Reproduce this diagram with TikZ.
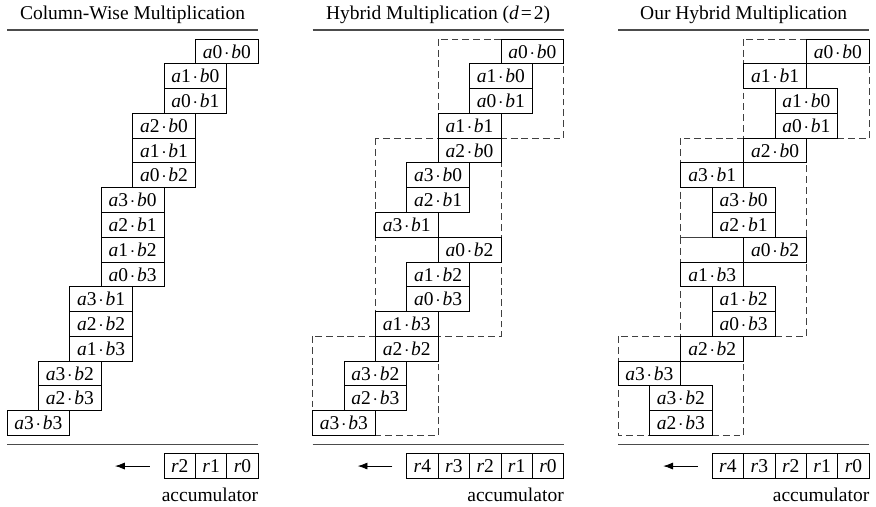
\documentclass[tikz,border=0pt]{standalone}
\usepackage{fontspec}
\setmainfont{Liberation Serif}
\usetikzlibrary{arrows.meta}

\newcommand{\pp}[2]{\textit{a}#1\kern0.9pt$\cdot$\kern0.9pt\textit{b}#2}

\begin{document}
\begin{tikzpicture}[x=16.1pt, y=-12.7pt,
    prodbox/.style = {draw, minimum width=32.2pt, minimum height=12.7pt, inner sep=0pt},
    regbox/.style = {draw, minimum width=16.1pt, minimum height=12.7pt, inner sep=0pt},
    dashgroup/.style = {draw=black!75, dash pattern=on 3.5pt off 2pt},
    panelrule/.style = {draw=black!70, line width=0.7pt},
    carry/.style = {-{Latex[length=5pt,width=3.6pt]}}]

    \useasboundingbox (-0.223,-1.576) rectangle (27.675,18.87);

    % column-wise
    \node[anchor=base] (cwtitle) at (4,-0.77) {Column-Wise Multiplication};
    \draw[panelrule] (0,-0.364) -- (8,-0.364);
    \draw[panelrule] (0,16.36) -- (8,16.36);
    \foreach \a/\b/\c [count=\r from 0] in {0/0/0, 1/0/1, 0/1/1, 2/0/2, 1/1/2, 0/2/2, 3/0/3, 2/1/3, 1/2/3, 0/3/3, 3/1/4, 2/2/4, 1/3/4, 3/2/5, 2/3/5, 3/3/6}
        \node[prodbox] (cw\a\b) at (7-\c,\r+0.5) {\pp{\a}{\b}};
    \foreach \i in {0,1,2} \node[regbox] (cwr\i) at (7.5-\i,17.24) {\textit{r}\i};
    \coordinate (cwtip) at (3.44,17.24);
    \draw[carry] ([xshift=-7.2pt]cwr2.west) -- (cwtip);
    \node[anchor=north east, inner xsep=0pt, inner ysep=4.5pt] (cwacc) at (cwr0.south east) {accumulator};

    % hybrid, d = 2
    \begin{scope}[xshift=156.65pt]
    \node[anchor=base] (hytitle) at (4,-0.77) {Hybrid Multiplication (\textit{d}\kern1pt=\kern1pt2)};
    \draw[panelrule] (0,-0.364) -- (8,-0.364);
    \draw[panelrule] (0,16.36) -- (8,16.36);
    \draw[dashgroup] (4,0) rectangle (8,4);
    \draw[dashgroup] (2,4) rectangle (6,12);
    \draw[dashgroup] (0,12) rectangle (4,16);
    \foreach \a/\b/\c [count=\r from 0] in {0/0/0, 1/0/1, 0/1/1, 1/1/2, 2/0/2, 3/0/3, 2/1/3, 3/1/4, 0/2/2, 1/2/3, 0/3/3, 1/3/4, 2/2/4, 3/2/5, 2/3/5, 3/3/6}
        \node[prodbox] (hy\a\b) at (7-\c,\r+0.5) {\pp{\a}{\b}};
    \foreach \i in {0,...,4} \node[regbox] (hyr\i) at (7.5-\i,17.24) {\textit{r}\i};
    \coordinate (hytip) at (1.44,17.24);
    \draw[carry] ([xshift=-7.2pt]hyr4.west) -- (hytip);
    \node[anchor=north east, inner xsep=0pt, inner ysep=4.5pt] (hyacc) at (hyr0.south east) {accumulator};
    \end{scope}

    % our hybrid
    \begin{scope}[xshift=313.3pt]
    \node[anchor=base] (ourtitle) at (4,-0.77) {Our Hybrid Multiplication};
    \draw[panelrule] (0,-0.364) -- (8,-0.364);
    \draw[panelrule] (0,16.36) -- (8,16.36);
    \draw[dashgroup] (4,0) rectangle (8,4);
    \draw[dashgroup] (2,4) rectangle (6,8);
    \draw[dashgroup] (2,8) rectangle (6,12);
    \draw[dashgroup] (0,12) rectangle (4,16);
    \foreach \a/\b/\c [count=\r from 0] in {0/0/0, 1/1/2, 1/0/1, 0/1/1, 2/0/2, 3/1/4, 3/0/3, 2/1/3, 0/2/2, 1/3/4, 1/2/3, 0/3/3, 2/2/4, 3/3/6, 3/2/5, 2/3/5}
        \node[prodbox] (our\a\b) at (7-\c,\r+0.5) {\pp{\a}{\b}};
    \foreach \i in {0,...,4} \node[regbox] (ourr\i) at (7.5-\i,17.24) {\textit{r}\i};
    \coordinate (ourtip) at (1.44,17.24);
    \draw[carry] ([xshift=-7.2pt]ourr4.west) -- (ourtip);
    \node[anchor=north east, inner xsep=0pt, inner ysep=4.5pt] (ouracc) at (ourr0.south east) {accumulator};
    \end{scope}

\end{tikzpicture}
\end{document}
